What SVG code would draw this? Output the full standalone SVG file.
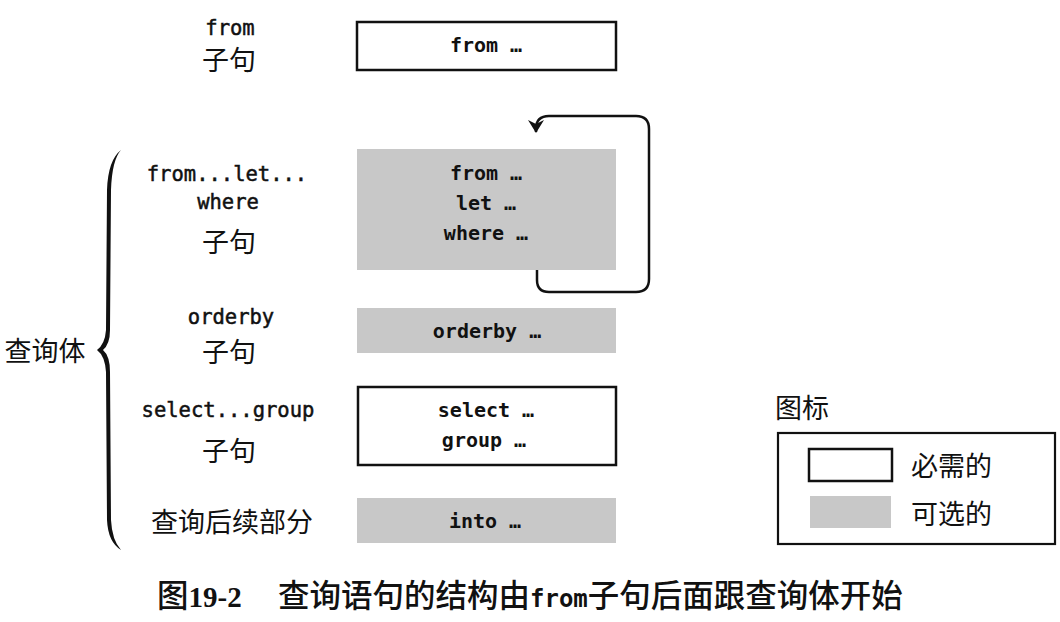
<svg xmlns="http://www.w3.org/2000/svg" width="1060" height="622" viewBox="0 0 1060 622">
<defs>
<style>
.code{font-family:"DejaVu Sans Mono","Liberation Mono",monospace;font-size:20px;font-weight:bold;fill:#111;text-anchor:middle}
.lbl{font-family:"DejaVu Sans Mono","Liberation Mono",monospace;font-size:20.5px;fill:#111;stroke:#111;stroke-width:0.5;text-anchor:middle}
.cjk{font-family:"Noto Sans CJK SC",sans-serif;font-size:27px;fill:#111;text-anchor:middle}
.req{fill:#fff;stroke:#111;stroke-width:2.5}
.opt{fill:#c8c8c8;stroke:none}
.line{fill:none;stroke:#111;stroke-width:2.5}
</style>
<marker id="ah" viewBox="0 0 13 16" refX="12" refY="8" markerWidth="13" markerHeight="16" markerUnits="userSpaceOnUse" orient="auto">
<path d="M0,0 L13,8 L0,16 L4,8 Z" fill="#111"/>
</marker>
</defs>
<rect width="1060" height="622" fill="#fff"/>

<g id="from-clause">
<text class="lbl" x="230" y="35">from</text>
<text class="cjk" x="229" y="70">子句</text>
<rect class="req" x="357" y="22" width="259" height="48"/>
<text class="code" x="486" y="52">from …</text>
</g>

<g id="from-let-where">
<text class="lbl" x="227" y="181">from...let...</text>
<text class="lbl" x="228" y="209">where</text>
<text class="cjk" x="229" y="252">子句</text>
<rect class="opt" x="357" y="149" width="259" height="121"/>
<text class="code" x="486" y="180">from …</text>
<text class="code" x="486" y="210">let …</text>
<text class="code" x="486" y="240">where …</text>
</g>

<g id="orderby">
<text class="lbl" x="231" y="324">orderby</text>
<text class="cjk" x="229" y="362">子句</text>
<rect class="opt" x="357" y="308" width="259" height="45"/>
<text class="code" x="487" y="338">orderby …</text>
</g>

<g id="select-group">
<text class="lbl" x="228" y="417">select...group</text>
<text class="cjk" x="229" y="461">子句</text>
<rect class="req" x="358" y="387" width="258" height="78"/>
<text class="code" x="486" y="417">select …</text>
<text class="code" x="484" y="447">group …</text>
</g>

<g id="continuation">
<text class="cjk" x="232" y="532">查询后续部分</text>
<rect class="opt" x="357" y="498" width="259" height="45"/>
<text class="code" x="485" y="528">into …</text>
</g>

<g id="query-body">
<text class="cjk" x="45" y="361">查询体</text>
</g>

<g id="connectors">
<path class="line" d="M537,270 L537,280 Q537,292 549,292 L636,292 Q649,292 649,279 L649,129 Q649,116 636,116 L549,116 Q536,116 536,129 L536,132" marker-end="url(#ah)"/>
<path fill="#111" d="M121,150 Q108,160 107,190 L106,330 Q105,344 97,350 Q105,356 106,372 L107,520 Q108,542 121,550 Q112,540 111,520 L110,372 Q110,356 103,350 Q110,344 110,330 L111,190 Q112,160 121,150 Z"/>
</g>

<g id="legend">
<text class="cjk" x="775" y="418" style="text-anchor:start">图标</text>
<rect x="778" y="433" width="277" height="111" fill="#fff" stroke="#111" stroke-width="2.2"/>
<rect class="req" x="809" y="449" width="83" height="32"/>
<text class="cjk" x="911" y="476" style="text-anchor:start">必需的</text>
<rect class="opt" x="810" y="496" width="81" height="32"/>
<text class="cjk" x="911" y="524" style="text-anchor:start">可选的</text>
</g>

<g id="caption">
<text x="157" y="607" style="font-family:'Noto Sans CJK SC',sans-serif;font-size:31.5px;fill:#111;font-weight:500"><tspan>图</tspan><tspan style="font-family:'Liberation Serif',serif;font-weight:bold;font-size:29px">19-2</tspan><tspan x="278">查询语句的结构由</tspan><tspan style="font-family:'DejaVu Sans Mono',monospace;font-weight:bold;font-size:24px">from</tspan><tspan>子句后面跟查询体开始</tspan></text>
</g>
</svg>
